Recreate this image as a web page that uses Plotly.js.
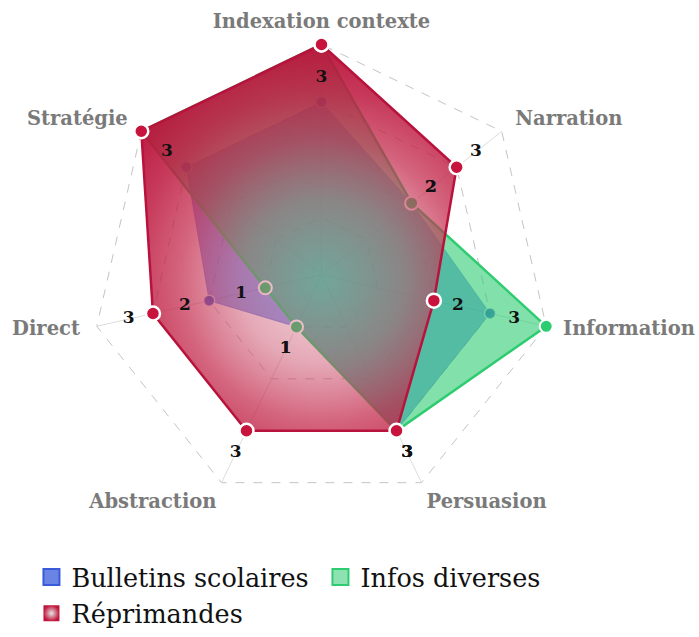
<!DOCTYPE html>
<html>
<head>
<meta charset="utf-8">
<script src="https://cdn.plot.ly/plotly-3.0.1.min.js"></script>
<style>html,body{margin:0;padding:0;background:#fff;}#chart{width:699px;height:637px;}</style>
</head>
<body>
<div id="chart"></div>
<script>
const categories = ['Indexation contexte','Narration','Information','Persuasion','Abstraction','Direct','Stratégie'];
const bulletins = [3,2,3,3,1,2,3];
const infos = [4,2,4,3,1,1,4];
const reprimandes = [4,3,2,3,3,3,4];
const seriesNames = ['Bulletins scolaires','Infos diverses','Réprimandes'];
const gridValues = [1,2,3,4];

const scaleMax = 4;          // outer dashed ring
const rangeMax = 4.4;        // a little room for the category labels
const labelOffset = 0.43;
function closed(a){ return a.concat([a[0]]); }
const thetaClosed = closed(categories);

const green = '#2ecc71', red = '#c8143c';

const traces = [];
// spokes from centre to outer ring
const spokeR = [], spokeT = [];
categories.forEach(function(c){ spokeR.push(0, scaleMax, null); spokeT.push(c, c, c); });
traces.push({type:'scatterpolar', r:spokeR, theta:spokeT, mode:'lines',
  line:{color:'#dcdcdc', width:1}, showlegend:false, hoverinfo:'skip', connectgaps:false});
// polygons: blue bottom, green, red top
traces.push({
  type:'scatterpolar', r: closed(bulletins), theta: thetaClosed, name: seriesNames[0],
  mode:'lines+markers', fill:'toself', fillcolor:'rgba(65,105,225,0.6)',
  line:{color:'rgba(65,105,225,0.45)', width:1},
  marker:{size:11, color:'rgba(50,90,205,0.9)', line:{color:'rgba(255,255,255,0.7)', width:1.5}},
  showlegend:false, hoverinfo:'skip'
});
traces.push({
  type:'scatterpolar', r: closed(infos), theta: thetaClosed, name: seriesNames[1],
  mode:'lines+markers', fill:'toself', fillcolor:'rgba(46,204,113,0.6)',
  line:{color:green, width:2.5},
  marker:{size:13, color:green, line:{color:'#ffffff', width:2}},
  showlegend:false, hoverinfo:'skip'
});
traces.push({
  type:'scatterpolar', r: closed(reprimandes), theta: thetaClosed, name: seriesNames[2],
  mode:'lines+markers', fill:'toself', fillcolor:'rgba(195,25,65,0.6)',
  line:{color:'#b8133c', width:2.5},
  marker:{size:14, color:red, line:{color:'#ffffff', width:2.5}},
  showlegend:false, hoverinfo:'skip'
});
// value labels
[bulletins, infos, reprimandes].forEach(function(vals){
  traces.push({
    type:'scatterpolar', r: vals.map(v => v + labelOffset), theta: categories,
    mode:'text', text: vals.map(String),
    textfont:{family:'DejaVu Serif', size:17, color:'#111', weight:'bold'},
    showlegend:false, hoverinfo:'skip', cliponaxis:false
  });
});
// category labels just outside the outer ring
const catFont = {family:'DejaVu Serif', size:19.5, color:'#7a7a7a', weight:'bold'};
const endCats = [categories[0], categories[3], categories[4]];
const sideCats = [categories[1], categories[2], categories[5], categories[6]];
traces.push({
  type:'scatterpolar', r: endCats.map(() => scaleMax + 0.2), theta: endCats,
  mode:'text', text: endCats, textposition:['top center','bottom right','bottom left'],
  textfont:catFont, showlegend:false, hoverinfo:'skip', cliponaxis:false
});
traces.push({
  type:'scatterpolar', r: sideCats.map(() => scaleMax + 0.3), theta: sideCats,
  mode:'text', text: sideCats, textposition:['middle right','middle right','middle left','middle left'],
  textfont:catFont, showlegend:false, hoverinfo:'skip', cliponaxis:false
});
// legend entries
traces.push({type:'scatterpolar', r:[null], theta:[categories[0]], name:seriesNames[0], mode:'markers',
  marker:{symbol:'square', size:16, color:'rgba(80,110,225,0.85)', line:{color:'#3a5bd9', width:2}}, showlegend:true});
traces.push({type:'scatterpolar', r:[null], theta:[categories[0]], name:seriesNames[1], mode:'markers',
  marker:{symbol:'square', size:16, color:'rgba(46,204,113,0.55)', line:{color:green, width:2}}, showlegend:true});
traces.push({type:'scatterpolar', r:[null], theta:[categories[0]], name:seriesNames[2], mode:'markers',
  marker:{symbol:'square', size:16, color:'#c0143c', gradient:{type:'radial', color:'#e6e6e6'}, line:{width:0}}, showlegend:true});

// polar centre and outer-ring radius in page pixels
const cxPx = 321.5, cyPx = 275, ringPx = 230.5;
const totalPx = ringPx * rangeMax / scaleMax;
const box = {x0:cxPx-totalPx, x1:cxPx+totalPx, y0:cyPx-totalPx, y1:cyPx+totalPx};

const layout = {
  width:699, height:637,
  margin:{l:0, r:0, t:0, b:0},
  paper_bgcolor:'#ffffff',
  showlegend:true,
  polar:{
    domain:{x:[box.x0/699, box.x1/699], y:[1-box.y1/637, 1-box.y0/637]},
    bgcolor:'#ffffff',
    gridshape:'linear',
    radialaxis:{range:[0,rangeMax], tickvals:gridValues, showticklabels:false, ticks:'', showline:false,
      gridcolor:'#c4c4c4', griddash:'dash', gridwidth:1},
    angularaxis:{direction:'clockwise', rotation:90, showline:false, ticks:'',
      showticklabels:false, showgrid:false}
  },
  legend:{orientation:'h', x:0.045, xanchor:'left', y:0, yanchor:'bottom',
    font:{family:'DejaVu Serif', size:25.5, color:'#111'},
    entrywidth:244, entrywidthmode:'pixels', itemsizing:'trace', tracegroupgap:0}
};

function fitDomain(gd){
  const s = gd._fullLayout._size;
  const dx = [(box.x0 - s.l)/s.w, (box.x1 - s.l)/s.w];
  const dy = [(s.t + s.h - box.y1)/s.h, (s.t + s.h - box.y0)/s.h];
  const cur = gd._fullLayout.polar.domain;
  if (Math.abs(cur.x[0]-dx[0])<1e-4 && Math.abs(cur.y[0]-dy[0])<1e-4 && Math.abs(cur.y[1]-dy[1])<1e-4) return Promise.resolve(gd);
  return Plotly.relayout(gd, {'polar.domain.x': dx.map(v=>Math.max(0,Math.min(1,v))), 'polar.domain.y': dy.map(v=>Math.max(0,Math.min(1,v)))});
}

function applyRedGradient(gd){
  const svg = gd.querySelector('svg.main-svg');
  const groups = gd.querySelectorAll('.scatterlayer .trace');
  if(!svg || groups.length < 4) return;
  const path = groups[3].querySelector('path.js-fill');
  if(!path) return;
  const NS = 'http://www.w3.org/2000/svg';
  let defs = svg.querySelector('defs');
  if(!defs){ defs = document.createElementNS(NS,'defs'); svg.insertBefore(defs, svg.firstChild); }
  const pt = svg.createSVGPoint(); pt.x = cxPx; pt.y = cyPx + 6;
  const local = pt.matrixTransform(path.getScreenCTM().inverse());
  const old = svg.querySelector('#redRadialFill'); if(old) old.remove();
  const g = document.createElementNS(NS,'radialGradient');
  g.setAttribute('id','redRadialFill');
  g.setAttribute('gradientUnits','userSpaceOnUse');
  g.setAttribute('cx', local.x); g.setAttribute('cy', local.y); g.setAttribute('r', ringPx*1.02);
  const stops = [[0,'rgb(205,95,120)',0.24],[0.35,'rgb(200,70,100)',0.47],[0.6,'rgb(195,40,75)',0.72],[0.8,'rgb(190,26,64)',0.86],[1,'rgb(184,18,57)',0.96]];
  stops.forEach(function(st){
    const e = document.createElementNS(NS,'stop');
    e.setAttribute('offset', st[0]); e.setAttribute('stop-color', st[1]); e.setAttribute('stop-opacity', st[2]);
    g.appendChild(e);
  });
  defs.appendChild(g);
  path.style.fill = 'url(#redRadialFill)';
  path.style.fillOpacity = 1;
}

Plotly.newPlot('chart', traces, layout, {displayModeBar:false, staticPlot:true})
  .then(fitDomain)
  .then(function(){ applyRedGradient(document.getElementById('chart')); });
</script>
</body>
</html>
